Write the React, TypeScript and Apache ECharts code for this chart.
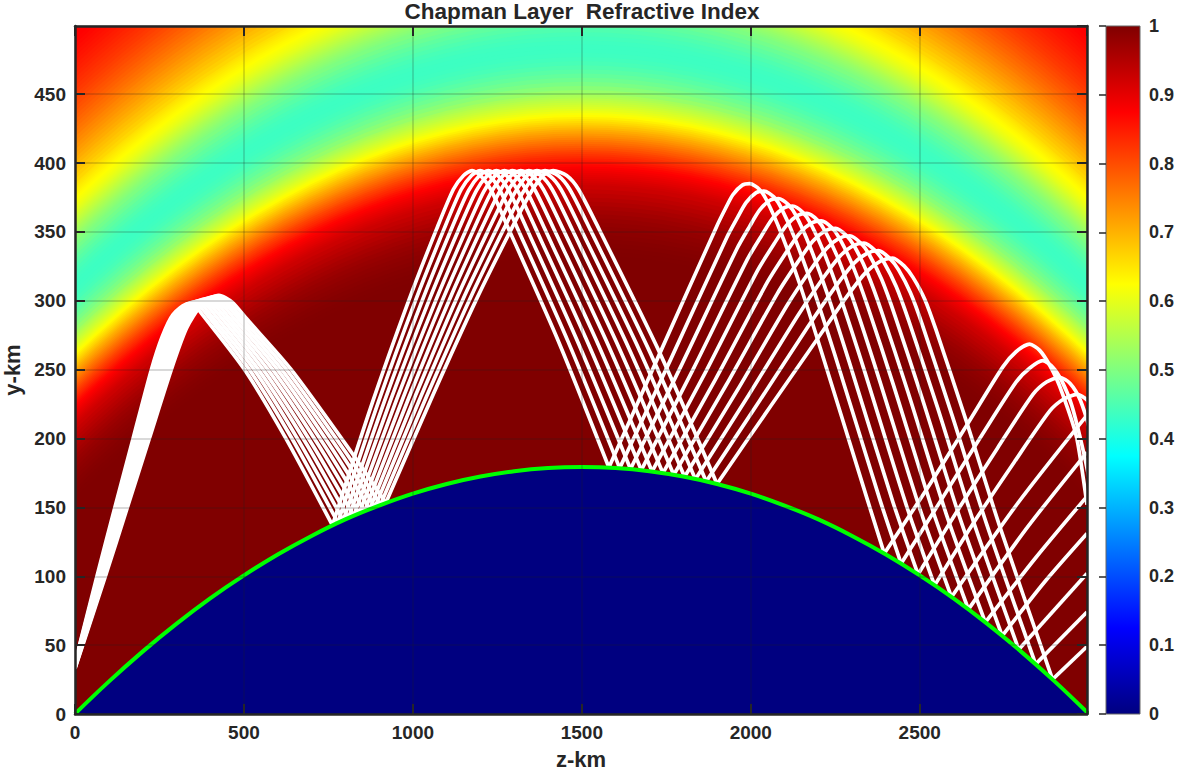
import React, { useEffect, useRef } from "react";
import * as echarts from "echarts";

const TITLE = "Chapman Layer  Refractive Index";
const X_MAX = 2995;
const Y_MAX = 499.5;
const EARTH_RADIUS = 6340;
const EARTH_CENTRE_Z = 1500;
const EARTH_CENTRE_Y = -6160;

// colormap: position, [r, g, b]
const JET_POS = [0, 0.125, 0.375, 0.625, 0.875, 1];
const JET_RGB = [[0, 0, 128], [0, 0, 255], [0, 255, 255], [255, 255, 0], [255, 0, 0], [128, 0, 0]];

// refractive index against height above ground (km), read along radial cuts
const PROFILE = [
  [153,1],[156,0.999],[159,0.998],[162,0.996],[165,0.994],[168,0.991],[171,0.988],[174,0.985],[177,0.981],[180,0.977],[183,0.972],[186,0.967],[189,0.961],[192,0.954],[195,0.947],[198,0.94],[201,0.933],
  [204,0.925],[205.5,0.92],[207,0.915],[208.5,0.91],[210,0.905],[211.5,0.9],[213,0.895],[214.5,0.889],[216,0.883],[217.5,0.877],[219,0.87],[220.5,0.862],[222,0.853],[223.5,0.844],[225,0.835],[226.5,0.826],[228,0.817],[229.5,0.808],[231,0.798],[232.5,0.788],[234,0.778],[235.5,0.768],[237,0.758],[238.5,0.748],[240,0.737],[241.5,0.727],[243,0.716],[244.5,0.706],[246,0.695],[247.5,0.684],[249,0.672],[250.5,0.661],[252,0.65],[253.5,0.639],[255,0.628],[256.5,0.618],[258,0.608],[259.5,0.599],[261,0.59],[262.5,0.581],[264,0.572],[265.5,0.563],[267,0.555],[268.5,0.546],[270,0.538],
  [273,0.523],[276,0.508],[279,0.495],[282,0.483],[285,0.472],[288,0.462],[291,0.453],[294,0.446],[297,0.441],[300,0.437],[303,0.435],[306,0.435],[309,0.437],[312,0.441],[315,0.446],[318,0.452],[321,0.46],[324,0.468],[327,0.478],[330,0.488],
  [333,0.498],[334.5,0.504],[336,0.51],[337.5,0.516],[339,0.522],[340.5,0.528],[342,0.535],[343.5,0.541],[345,0.548],[346.5,0.554],[348,0.561],[349.5,0.567],[351,0.574],[352.5,0.58],[354,0.587],[355.5,0.594],[357,0.6],[358.5,0.605],[360,0.61],[361.5,0.615],[363,0.619],[364.5,0.624],[366,0.628],[367.5,0.632],[369,0.637],[370.5,0.641],[372,0.646],[373.5,0.65],[375,0.655],
  [378,0.664],[381,0.673],[384,0.682],[387,0.69],[390,0.699],[393,0.707],[396,0.715],[399,0.723],[402,0.731],[405,0.739],[408,0.746],[411,0.754],[414,0.761],[417,0.768],[420,0.775],[423,0.782],[426,0.789],[429,0.795],[432,0.801],[435,0.807],[438,0.813],[441,0.819],[444,0.824],[447,0.829],[450,0.834],[453,0.839],[456,0.844],[459,0.848],[462,0.852],[465,0.856],[468,0.86],[471,0.864],[474,0.868],[477,0.872],[480,0.875],[483,0.878],[486,0.881],[489,0.884],[492,0.887],[495,0.89],[498,0.893],
];

// ground surface
const GROUND_Z = [0,100,200,300,400,500,600,700,800,900,1000,1100,1200,1300,1400,1500,1600,1700,1800,1900,2000,2100,2200,2300,2400,2500,2600,2700,2800,2900,3000];
const GROUND_Y = [0.1,23.5,45.3,65.4,83.9,100.6,115.8,129.3,141.3,151.3,160,167,172.4,176.3,178.6,179.3,178.6,176.3,172.4,167,160,151.3,141.3,129.3,115.8,100.6,83.9,65.4,45.3,23.5,0.1];

// ray paths [z, y]; every ray touches the ground at the points listed in GROUND_HITS
const GROUND_HITS = [12, 23, 36];
const RAY_0 = [[0,37],[65,100],[118,150],[172,200],[226,250],[258,274],[290,290],[335,298],[360,295],[377,290],[502,250],[622,201],[762,137],[880,226],[989,301],[1070,352],[1120,381],[1150,391],[1175,394.5],[1200,391],[1230,381],[1280,354],[1430,271],[1580,179],[1731,262],[1899,354],[1925,367],[1947,377],[1975,384],[1997,385],[2025,381],[2047,373],[2090,349],[2145,312],[2204,267],[2342,158],[2395,116.5],[2520,163],[2640,210],[2746,252],[2785,263],[2825,268.5],[2855,264],[2885,253],[2914,238],[2964,201],[2995,152]];
const RAY_1 = [[0,36.6],[67.5,100],[121.7,150],[176.8,200],[231.9,250],[265.2,274.6],[298.2,290.6],[344,298.6],[370.5,295.4],[390,290],[516,250],[642,200],[778,139],[898,226.6],[1009,301],[1092,352],[1142.5,380.6],[1173.5,391],[1199,394.5],[1225.5,391],[1256,381],[1307,354],[1460,270],[1612,178.5],[1764,258],[1929,346],[1961,360.6],[1986.5,371.4],[2016,378.5],[2039,379.6],[2068,375.4],[2090,367.4],[2132.5,344],[2185,308.7],[2248,261.4],[2381.5,156],[2445,109.2],[2565,156],[2685,203],[2785,241],[2825,251],[2864,256.5],[2893,252],[2920,242],[2950,224],[2985,190],[3010,160]];
const RAY_2 = [[0,36.2],[70,100],[125.4,150],[181.6,200],[237.8,250],[272.4,275.2],[306.4,291.2],[353,299.2],[381,295.8],[402,289.6],[530,250],[661,198.8],[794,140.6],[916,227.2],[1029,301],[1113,351.6],[1165,380.2],[1197,391],[1223,394.5],[1251,391],[1282,381],[1335,353.4],[1490,269],[1644,177.9],[1797,254.4],[1959,337.8],[1997,354.2],[2026,365.8],[2057,373],[2082,374.2],[2111,369.8],[2134,361.8],[2175,339.4],[2226,305.4],[2291,255.8],[2421,153.6],[2495,101.4],[2610,147],[2730,193],[2835,232],[2875,241],[2914,244.5],[2945,240],[2975,228],[3005,205]];
const RAY_3 = [[0,35.8],[72.5,100],[129.1,150],[186.4,200],[243.7,250],[279.6,275.8],[314.6,291.8],[362,299.8],[391.5,296.2],[415,289.4],[543,250],[681,197.7],[809,142.2],[934,227.8],[1049,301],[1135,351.4],[1187.5,379.8],[1220.5,391],[1247,394.5],[1276.5,391],[1308,381],[1362,353.1],[1520,268.3],[1676,177.1],[1830,250.6],[1989,329.7],[2033,347.8],[2065.5,360.2],[2098,367.5],[2124,368.8],[2154,364.2],[2177,356.2],[2217.5,334.6],[2266,302.1],[2335,250.2],[2460.5,151.4],[2544,93.4],[2660,139],[2780,183],[2885,220],[2925,228.5],[2965,232],[2995,228],[3020,218]];
const RAY_4 = [[0,35.4],[75,100],[132.8,150],[191.2,200],[249.6,250],[286.8,276.4],[322.8,292.4],[371.4,300.4],[402,296.6],[428,289.2],[557,250],[700,196.6],[825,144],[952,228.4],[1069,301],[1157,351.2],[1210,379.4],[1244,391],[1271,394.5],[1302,391],[1334,381],[1389,352.8],[1550,267.4],[1708,176.1],[1863,246.8],[2019,321.6],[2069,341.4],[2105,354.6],[2139,362],[2166,363.4],[2197,358.6],[2220,350.6],[2260,329.8],[2306,298.8],[2378,244.6],[2500,149.2],[2594,84.9],[2790,153],[2995,217]];
const RAY_5 = [[0,35],[77.5,100],[136.5,150],[196,200],[255.5,250],[294,277],[331,293],[380.5,301],[412.5,297],[440.5,289],[571,250],[720,195.5],[841,145.7],[970,229],[1088.5,301],[1178.5,351],[1232.5,379],[1267.5,391],[1295,394.5],[1327.5,391],[1360,381],[1416.5,352.5],[1580.5,266.5],[1740,174.9],[1895.5,243],[2049,313.5],[2104.5,335],[2144.5,349],[2180,356.5],[2208.5,358],[2240,353],[2263.5,345],[2302.5,325],[2346.5,295.5],[2422,239],[2539.5,147],[2644,76],[2820,136],[2995,190]];
const RAY_6 = [[0,34.6],[80,100],[140.2,150],[200.8,200],[261.4,250],[301.2,277.6],[339.2,293.6],[389.6,301.6],[423,297.4],[453,288.8],[585,250],[739.6,194.4],[857,147.3],[988,229.6],[1108.4,301],[1200,350.8],[1255,378.6],[1291,391],[1319,394.5],[1353,391],[1386,381],[1444,352.2],[1610.6,265.6],[1772,173.7],[1928,239.2],[2079,305.4],[2140.4,328.6],[2184,343.4],[2221,351],[2251,352.6],[2283,347.4],[2307,339.4],[2345,320.2],[2387,292.2],[2465.6,233.4],[2579,144.8],[2694,66.6],[2845,114],[2995,158]];
const RAY_7 = [[0,34.2],[82.5,100],[143.9,150],[205.6,200],[267.3,250],[308.4,278.2],[347.4,294.2],[398.7,302.2],[433.5,297.8],[466,288.6],[599,250],[759,193.3],[872.6,148.9],[1006,230.2],[1128,301],[1222,350.6],[1277.5,378.2],[1314.5,391],[1343,394.5],[1378.5,391],[1412,381],[1471,351.9],[1640.7,264.7],[1804,172.2],[1961,235.4],[2109,297.3],[2176,322.2],[2223.5,337.8],[2262,345.5],[2293,347.2],[2326,341.8],[2350,333.8],[2387.5,315.4],[2427,288.9],[2509,227.8],[2618.5,142.6],[2744,56.8],[2870,96],[2995,131]];
const RAY_8 = [[0,33.8],[85,100],[147.6,150],[210.4,200],[273.2,250],[315.6,278.8],[355.6,294.8],[408,302.8],[444,298.2],[479,288.4],[612,250],[779,192.2],[888,150.4],[1024,230.8],[1148,301],[1244,350.4],[1300,377.8],[1338,391],[1367,394.5],[1404,391],[1438,381],[1498,351.6],[1671,263.8],[1836,170.5],[1994,231.6],[2139,289.2],[2212,315.8],[2263,332.2],[2303,340],[2335,341.8],[2369,336.2],[2393.5,328.2],[2430,310.6],[2467.4,285.6],[2553,222.2],[2658,140.4],[2793,46.8],[2995,102]];
const RAY_9 = [[0,33.4],[87.5,100],[151.3,150],[215.2,200],[279.1,250],[322.8,279.4],[363.8,295.4],[417,303.4],[454.5,298.6],[491,288.2],[626,250],[798,191.1],[904,151.9],[1042,231.4],[1168,301],[1265,350.2],[1322.5,377.4],[1361.5,391],[1391,394.5],[1429.5,391],[1464,381],[1525.7,351.3],[1701,262.9],[1868,168.8],[2027,227.8],[2169,281.1],[2248,309.4],[2302.5,326.6],[2344,334.5],[2378,336.4],[2412,330.6],[2437,322.6],[2472.5,305.8],[2508,282.3],[2596,216.6],[2697.5,138.2],[2843,36.2],[2995,74]];
const RAY_10 = [[0,33],[90,100],[155,150],[220,200],[285,250],[330,280],[372,296],[426,304],[465,299],[504,288],[640,250],[818,190],[920,153.4],[1060,232],[1188,301],[1287,350],[1345,377],[1385,391],[1415,394.5],[1455,391],[1490,381],[1553,351],[1731,262],[1900,167],[2060,224],[2199,273],[2284,303],[2342,321],[2385,329],[2420,331],[2455,325],[2480,317],[2515,301],[2548,279],[2640,211],[2737,136],[2893,25.1],[2995,49]];
const RAYS = [RAY_0, RAY_1, RAY_2, RAY_3, RAY_4, RAY_5, RAY_6, RAY_7, RAY_8, RAY_9, RAY_10];

const jet = (v: number) => {
  let i = 0;
  while (i < JET_POS.length - 2 && v > JET_POS[i + 1]) i++;
  const f = (v - JET_POS[i]) / (JET_POS[i + 1] - JET_POS[i]);
  const c = JET_RGB[i].map((a, k) => Math.round(a + (JET_RGB[i + 1][k] - a) * f));
  return `rgb(${c[0]},${c[1]},${c[2]})`;
};

const FONT = "'Liberation Sans', Arial, sans-serif";
const INK = "#262626";
const GRID_LINE = "rgba(30,30,30,0.17)";

const App = () => {
  const ref = useRef<HTMLDivElement>(null);
  useEffect(() => {
    document.body.style.margin = "0";
    const chart = echarts.init(ref.current!, undefined, { renderer: "svg" });
    const rows = PROFILE.slice().reverse();
    const arcZ: number[] = [];
    for (let z = -100; z <= 3100; z += 80) arcZ.push(z);

    const bandItem = (_: any, api: any) => {
      const r = EARTH_RADIUS + api.value(0);
      const pts = arcZ.map((z) =>
        api.coord([z, Math.sqrt(r * r - (z - EARTH_CENTRE_Z) ** 2) + EARTH_CENTRE_Y])
      );
      pts.push(api.coord([3100, -50]));
      pts.push(api.coord([-100, -50]));
      return { type: "polygon", shape: { points: pts }, style: { fill: jet(api.value(1)) } };
    };

    const barItem = (_: any, api: any) => {
      const a = api.coord([0, 1]);
      const b = api.coord([1, 0]);
      return {
        type: "rect",
        shape: { x: a[0], y: a[1], width: b[0] - a[0], height: b[1] - a[1] },
        style: {
          fill: new echarts.graphic.LinearGradient(
            0, 1, 0, 0,
            JET_POS.map((p) => ({ offset: p, color: jet(p) }))
          ),
          stroke: "#666",
          lineWidth: 1,
        },
      };
    };

    // a ray bends smoothly in the layer but reflects sharply at the ground
    const hops: number[][][] = [];
    RAYS.forEach((ray) => {
      let from = 0;
      [...GROUND_HITS, ray.length - 1].forEach((to) => {
        hops.push(ray.slice(from, to + 1));
        from = to;
      });
    });

    const tickBase = { lineStyle: { color: INK, width: 2 } };
    const labelBase = { fontFamily: FONT, fontWeight: "bold" as const, fontSize: 19, color: INK };
    const nameBase = { fontFamily: FONT, fontWeight: "bold" as const, fontSize: 22, color: INK };
    const plain = (v: number) => String(v);

    chart.setOption({
      animation: false,
      backgroundColor: "#fff",
      title: {
        text: TITLE,
        left: 582,
        top: 0,
        padding: 0,
        textAlign: "center",
        textStyle: { fontFamily: FONT, fontWeight: "bold", fontSize: 22.5, color: INK },
      },
      grid: [
        { left: 75, top: 26, width: 1012, height: 688, show: false, outerBoundsMode: "none" },
        { left: 1106, top: 26, width: 34, height: 688, show: false, outerBoundsMode: "none" },
      ],
      xAxis: [
        {
          gridIndex: 0, type: "value", min: 0, max: X_MAX, interval: 500, z: 10,
          name: "z-km", nameLocation: "middle", nameGap: 34, nameTextStyle: nameBase,
          axisLine: { onZero: false, lineStyle: { color: INK, width: 2.5 } },
          axisTick: { inside: true, length: 10, ...tickBase },
          axisLabel: { ...labelBase, margin: 9, showMaxLabel: false, formatter: plain },
          splitLine: { show: true, lineStyle: { color: GRID_LINE, width: 2 } },
        },
        {
          gridIndex: 0, type: "value", position: "top", min: 0, max: X_MAX, interval: 500, z: 10,
          axisLine: { onZero: false, lineStyle: { color: INK, width: 2.5 } },
          axisTick: { inside: true, length: 10, ...tickBase },
          axisLabel: { show: false },
          splitLine: { show: false },
        },
        { gridIndex: 1, type: "value", min: 0, max: 1, show: false },
      ],
      yAxis: [
        {
          gridIndex: 0, type: "value", min: 0, max: Y_MAX, interval: 50, z: 10,
          name: "y-km", nameLocation: "middle", nameGap: 49, nameTextStyle: nameBase,
          axisLine: { onZero: false, lineStyle: { color: INK, width: 2.5 } },
          axisTick: { inside: true, length: 10, ...tickBase },
          axisLabel: { ...labelBase, margin: 9, showMaxLabel: false, formatter: plain },
          splitLine: { show: true, lineStyle: { color: GRID_LINE, width: 2 } },
        },
        {
          gridIndex: 0, type: "value", position: "right", min: 0, max: Y_MAX, interval: 50, z: 10,
          axisLine: { onZero: false, lineStyle: { color: INK, width: 2.5 } },
          axisTick: { inside: true, length: 10, ...tickBase },
          axisLabel: { show: false },
          splitLine: { show: false },
        },
        {
          gridIndex: 1, type: "value", position: "right", min: 0, max: 1, interval: 0.1, z: 10,
          axisLine: { show: false },
          axisTick: { inside: true, length: 7, lineStyle: { color: INK, width: 1.5 } },
          axisLabel: { ...labelBase, fontSize: 18, margin: 9 },
          splitLine: { show: false },
        },
      ],
      series: [
        {
          type: "custom", xAxisIndex: 0, yAxisIndex: 0, clip: true, silent: true, z: 1,
          data: rows, renderItem: bandItem,
        },
        ...hops.map((hop) => ({
          type: "line", xAxisIndex: 0, yAxisIndex: 0, z: 3, silent: true, clip: true,
          showSymbol: false, symbol: "none", smooth: 0.25, data: hop,
          lineStyle: { color: "#fff", width: 3.7, join: "round" },
        })),
        {
          type: "line", xAxisIndex: 0, yAxisIndex: 0, z: 4, silent: true, clip: true,
          showSymbol: false, symbol: "none", smooth: 0.4,
          data: GROUND_Z.map((z, i) => [z, GROUND_Y[i]]),
          lineStyle: { color: "#00ff00", width: 4 },
          areaStyle: { color: "#000080", opacity: 1, origin: "start" },
        },
        {
          type: "custom", xAxisIndex: 2, yAxisIndex: 2, silent: true, z: 2,
          data: [[0, 0]], renderItem: barItem,
        },
      ],
    });
    return () => chart.dispose();
  }, []);
  return <div ref={ref} style={{ width: 1177, height: 770 }} />;
};

export default App;
